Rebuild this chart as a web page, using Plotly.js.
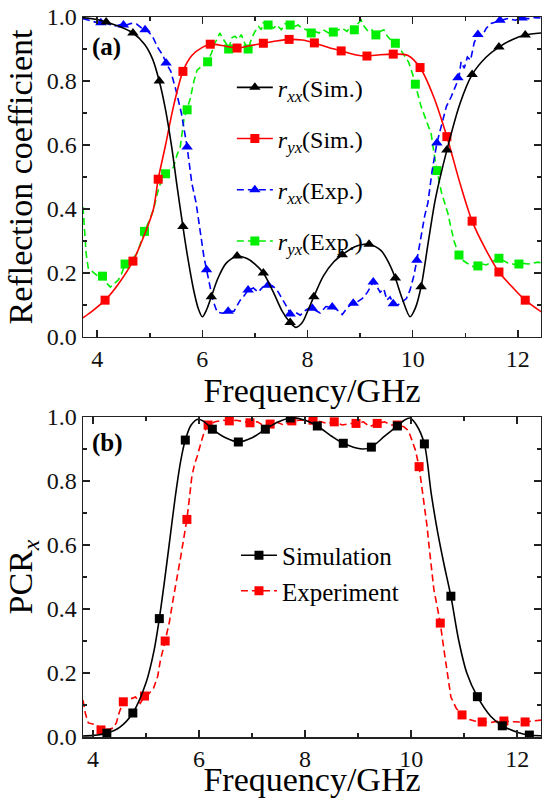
<!DOCTYPE html>
<html>
<head>
<meta charset="utf-8">
<script src="https://cdn.plot.ly/plotly-3.0.1.min.js"></script>
<style>html,body{margin:0;padding:0;background:#fff;}#chart{width:542px;height:798px;}</style>
</head>
<body>
<div id="chart"></div>
<script>
// ---------- Panel (a): reflection coefficients ----------
const freqRxxSim = [3.73, 4.0, 4.17, 4.4, 4.68, 4.9, 5.05, 5.18, 5.3, 5.42, 5.52, 5.63, 5.72, 5.83, 5.92, 6.0, 6.08, 6.17, 6.3, 6.45, 6.66, 6.85, 7.0, 7.16, 7.35, 7.52, 7.67, 7.78, 7.9, 8.0, 8.12, 8.3, 8.5, 8.66, 8.9, 9.17, 9.4, 9.55, 9.67, 9.8, 9.95, 10.05, 10.16, 10.3, 10.43, 10.65, 10.9, 11.13, 11.4, 11.64, 11.9, 12.14, 12.44];
const rxxSim = [0.998, 0.992, 0.984, 0.972, 0.95, 0.915, 0.87, 0.80, 0.71, 0.59, 0.47, 0.345, 0.25, 0.15, 0.09, 0.063, 0.085, 0.126, 0.185, 0.23, 0.253, 0.245, 0.228, 0.20, 0.14, 0.08, 0.045, 0.03, 0.045, 0.08, 0.126, 0.19, 0.235, 0.257, 0.282, 0.29, 0.27, 0.23, 0.184, 0.12, 0.063, 0.09, 0.157, 0.30, 0.43, 0.584, 0.73, 0.82, 0.875, 0.906, 0.93, 0.944, 0.95];
const freqRxxSimMk = [4.17, 4.68, 5.18, 5.63, 6.17, 6.66, 7.16, 7.67, 8.12, 8.66, 9.17, 9.67, 10.16, 10.65, 11.13, 11.64, 12.14];
const rxxSimMk = [0.984, 0.95, 0.80, 0.345, 0.126, 0.253, 0.20, 0.045, 0.126, 0.257, 0.29, 0.184, 0.157, 0.584, 0.82, 0.906, 0.944];

const freqRyxSim = [3.73, 3.9, 4.15, 4.4, 4.68, 4.9, 5.07, 5.16, 5.3, 5.45, 5.63, 5.8, 6.0, 6.15, 6.4, 6.66, 6.9, 7.16, 7.4, 7.65, 7.9, 8.13, 8.4, 8.64, 8.9, 9.13, 9.38, 9.63, 9.91, 10.14, 10.4, 10.65, 10.9, 11.13, 11.4, 11.64, 11.9, 12.14, 12.45];
const ryxSim = [0.06, 0.08, 0.115, 0.165, 0.237, 0.32, 0.40, 0.493, 0.60, 0.72, 0.83, 0.88, 0.905, 0.915, 0.91, 0.903, 0.91, 0.918, 0.925, 0.93, 0.928, 0.919, 0.905, 0.894, 0.882, 0.878, 0.882, 0.884, 0.88, 0.842, 0.75, 0.626, 0.48, 0.362, 0.27, 0.203, 0.155, 0.115, 0.078];
const freqRyxSimMk = [4.15, 4.68, 5.16, 5.63, 6.15, 6.66, 7.16, 7.65, 8.13, 8.64, 9.13, 9.63, 10.14, 10.65, 11.13, 11.64, 12.14];
const ryxSimMk = [0.115, 0.237, 0.493, 0.83, 0.915, 0.903, 0.918, 0.93, 0.919, 0.894, 0.878, 0.884, 0.842, 0.626, 0.362, 0.203, 0.115];

const freqRxxExp = [3.73, 3.85, 3.95, 4.05, 4.15, 4.25, 4.35, 4.45, 4.55, 4.65, 4.75, 4.85, 4.95, 5.05, 5.15, 5.25, 5.31, 5.4, 5.5, 5.6, 5.71, 5.8, 5.88, 5.96, 6.03, 6.08, 6.15, 6.2, 6.28, 6.38, 6.49, 6.6, 6.72, 6.8, 6.87, 6.97, 7.06, 7.15, 7.25, 7.33, 7.42, 7.54, 7.62, 7.67, 7.76, 7.86, 7.95, 8.05, 8.14, 8.24, 8.35, 8.47, 8.56, 8.66, 8.75, 8.85, 8.95, 9.04, 9.14, 9.25, 9.31, 9.38, 9.45, 9.51, 9.57, 9.63, 9.72, 9.8, 9.88, 9.95, 10.02, 10.08, 10.13, 10.18, 10.23, 10.29, 10.37, 10.46, 10.55, 10.64, 10.73, 10.8, 10.88, 10.92, 10.98, 11.04, 11.1, 11.17, 11.24, 11.32, 11.4, 11.49, 11.58, 11.68, 11.8, 11.95, 12.08, 12.2, 12.32, 12.44];
const rxxExp = [0.995, 0.99, 0.985, 0.98, 0.983, 0.976, 0.972, 0.976, 0.975, 0.98, 0.978, 0.965, 0.958, 0.94, 0.905, 0.88, 0.856, 0.83, 0.77, 0.70, 0.594, 0.48, 0.42, 0.33, 0.25, 0.21, 0.15, 0.115, 0.078, 0.074, 0.08, 0.08, 0.115, 0.13, 0.147, 0.153, 0.14, 0.156, 0.162, 0.16, 0.147, 0.115, 0.09, 0.072, 0.078, 0.068, 0.082, 0.092, 0.085, 0.075, 0.095, 0.094, 0.085, 0.07, 0.09, 0.105, 0.11, 0.12, 0.14, 0.172, 0.16, 0.14, 0.15, 0.115, 0.125, 0.104, 0.10, 0.11, 0.12, 0.147, 0.19, 0.24, 0.29, 0.344, 0.38, 0.42, 0.52, 0.606, 0.66, 0.72, 0.75, 0.78, 0.81, 0.86, 0.84, 0.875, 0.865, 0.92, 0.945, 0.94, 0.965, 0.98, 0.985, 0.99, 0.995, 0.99, 0.997, 0.995, 0.998, 0.997];
const freqRxxExpMk = [4.07, 4.5, 4.91, 5.31, 5.71, 6.08, 6.49, 6.87, 7.25, 7.67, 8.09, 8.47, 8.87, 9.25, 9.63, 10.08, 10.46, 10.86, 11.24, 11.66, 12.08];
const rxxExpMk = [0.982, 0.975, 0.96, 0.856, 0.594, 0.21, 0.08, 0.147, 0.162, 0.072, 0.09, 0.094, 0.105, 0.172, 0.104, 0.24, 0.606, 0.81, 0.945, 0.99, 0.997];

const freqRyxExp = [3.73, 3.76, 3.79, 3.83, 3.9, 3.97, 4.05, 4.1, 4.17, 4.25, 4.32, 4.4, 4.47, 4.53, 4.6, 4.68, 4.76, 4.83, 4.9, 4.98, 5.07, 5.13, 5.18, 5.25, 5.3, 5.38, 5.45, 5.52, 5.58, 5.65, 5.71, 5.77, 5.84, 5.9, 5.98, 6.05, 6.1, 6.18, 6.24, 6.28, 6.33, 6.4, 6.46, 6.5, 6.56, 6.62, 6.68, 6.74, 6.8, 6.87, 6.93, 7.0, 7.07, 7.12, 7.16, 7.22, 7.28, 7.35, 7.42, 7.5, 7.58, 7.67, 7.75, 7.82, 7.9, 7.98, 8.07, 8.14, 8.22, 8.3, 8.4, 8.49, 8.58, 8.66, 8.75, 8.82, 8.89, 8.96, 9.02, 9.08, 9.15, 9.22, 9.3, 9.38, 9.45, 9.52, 9.6, 9.67, 9.76, 9.84, 9.92, 10.0, 10.05, 10.1, 10.16, 10.25, 10.35, 10.4, 10.46, 10.55, 10.62, 10.67, 10.73, 10.79, 10.88, 10.95, 11.02, 11.1, 11.17, 11.24, 11.32, 11.4, 11.49, 11.56, 11.64, 11.72, 11.8, 11.87, 11.95, 12.02, 12.1, 12.2, 12.3, 12.38, 12.44];
const ryxExp = [0.406, 0.33, 0.26, 0.215, 0.205, 0.195, 0.185, 0.19, 0.17, 0.156, 0.165, 0.178, 0.20, 0.228, 0.235, 0.245, 0.262, 0.30, 0.33, 0.36, 0.397, 0.44, 0.47, 0.50, 0.51, 0.52, 0.53, 0.57, 0.594, 0.68, 0.71, 0.745, 0.80, 0.834, 0.845, 0.855, 0.86, 0.89, 0.92, 0.93, 0.95, 0.93, 0.915, 0.90, 0.935, 0.94, 0.93, 0.945, 0.92, 0.90, 0.93, 0.955, 0.97, 0.96, 0.984, 0.97, 0.975, 0.965, 0.975, 0.96, 0.98, 0.975, 0.97, 0.975, 0.965, 0.96, 0.95, 0.955, 0.95, 0.96, 0.95, 0.953, 0.96, 0.965, 0.955, 0.97, 0.96, 0.98, 0.99, 0.97, 0.955, 0.96, 0.944, 0.955, 0.96, 0.94, 0.925, 0.918, 0.90, 0.88, 0.86, 0.82, 0.79, 0.76, 0.72, 0.68, 0.636, 0.58, 0.52, 0.45, 0.41, 0.386, 0.34, 0.298, 0.256, 0.24, 0.232, 0.225, 0.218, 0.222, 0.228, 0.225, 0.234, 0.24, 0.246, 0.24, 0.232, 0.23, 0.226, 0.228, 0.23, 0.228, 0.232, 0.234, 0.232];
const freqRyxExpMk = [4.1, 4.53, 4.9, 5.3, 5.71, 6.1, 6.5, 6.87, 7.25, 7.67, 8.07, 8.49, 8.89, 9.3, 9.67, 10.05, 10.46, 10.88, 11.24, 11.64, 12.02];
const ryxExpMk = [0.19, 0.228, 0.33, 0.51, 0.71, 0.86, 0.90, 0.90, 0.975, 0.975, 0.95, 0.953, 0.96, 0.944, 0.918, 0.79, 0.52, 0.256, 0.222, 0.246, 0.228];

// ---------- Panel (b): PCR ----------
const freqPcrSim = [3.81, 4.0, 4.26, 4.5, 4.75, 5.0, 5.15, 5.25, 5.35, 5.45, 5.55, 5.65, 5.74, 5.85, 5.98, 6.1, 6.25, 6.5, 6.74, 7.0, 7.25, 7.5, 7.72, 8.0, 8.23, 8.5, 8.72, 9.08, 9.25, 9.5, 9.74, 9.87, 9.98, 10.1, 10.25, 10.38, 10.5, 10.62, 10.75, 10.9, 11.05, 11.25, 11.5, 11.72, 12.0, 12.23, 12.45];
const pcrSim = [0.003, 0.005, 0.012, 0.03, 0.075, 0.17, 0.27, 0.37, 0.49, 0.62, 0.75, 0.86, 0.928, 0.975, 0.993, 0.985, 0.962, 0.935, 0.922, 0.935, 0.962, 0.985, 0.997, 0.99, 0.972, 0.94, 0.918, 0.90, 0.906, 0.94, 0.972, 0.99, 0.997, 0.975, 0.916, 0.76, 0.64, 0.54, 0.44, 0.30, 0.20, 0.126, 0.065, 0.035, 0.015, 0.006, 0.004];
const freqPcrSimMk = [4.26, 4.75, 5.25, 5.74, 6.25, 6.74, 7.25, 7.72, 8.23, 8.72, 9.25, 9.74, 10.25, 10.75, 11.25, 11.72, 12.23];
const pcrSimMk = [0.012, 0.075, 0.37, 0.928, 0.962, 0.922, 0.962, 0.997, 0.972, 0.918, 0.906, 0.972, 0.916, 0.44, 0.126, 0.035, 0.006];

const freqPcrExp = [3.81, 3.86, 3.91, 4.0, 4.07, 4.15, 4.22, 4.3, 4.38, 4.44, 4.5, 4.57, 4.65, 4.72, 4.8, 4.89, 4.97, 5.05, 5.14, 5.22, 5.27, 5.36, 5.44, 5.51, 5.58, 5.65, 5.72, 5.77, 5.82, 5.86, 5.91, 5.96, 6.05, 6.1, 6.17, 6.3, 6.45, 6.57, 6.7, 6.83, 6.96, 7.1, 7.2, 7.34, 7.45, 7.6, 7.75, 7.9, 8.05, 8.15, 8.3, 8.42, 8.55, 8.7, 8.85, 8.96, 9.1, 9.22, 9.36, 9.5, 9.62, 9.74, 9.86, 9.93, 9.98, 10.03, 10.08, 10.15, 10.23, 10.3, 10.34, 10.43, 10.5, 10.55, 10.62, 10.68, 10.75, 10.85, 10.96, 11.1, 11.2, 11.34, 11.5, 11.65, 11.75, 11.9, 12.05, 12.15, 12.3, 12.47];
const pcrExp = [0.115, 0.07, 0.044, 0.04, 0.038, 0.022, 0.025, 0.024, 0.028, 0.045, 0.08, 0.11, 0.118, 0.12, 0.125, 0.105, 0.128, 0.135, 0.152, 0.19, 0.24, 0.30, 0.36, 0.43, 0.49, 0.56, 0.63, 0.68, 0.75, 0.81, 0.85, 0.875, 0.928, 0.955, 0.975, 0.985, 0.99, 0.988, 0.99, 0.985, 0.982, 0.985, 0.975, 0.978, 0.985, 0.975, 0.988, 0.99, 0.99, 0.99, 0.985, 0.98, 0.985, 0.975, 0.98, 0.98, 0.985, 0.97, 0.98, 0.985, 0.975, 0.975, 0.97, 0.96, 0.944, 0.92, 0.897, 0.845, 0.75, 0.66, 0.594, 0.46, 0.40, 0.356, 0.272, 0.20, 0.125, 0.09, 0.069, 0.055, 0.05, 0.047, 0.045, 0.05, 0.05, 0.048, 0.047, 0.047, 0.05, 0.053];
const freqPcrExpMk = [4.15, 4.57, 4.97, 5.36, 5.77, 6.17, 6.57, 6.96, 7.34, 7.75, 8.15, 8.55, 8.96, 9.36, 9.74, 10.15, 10.55, 10.96, 11.34, 11.75, 12.15];
const pcrExpMk = [0.022, 0.11, 0.128, 0.30, 0.68, 0.975, 0.988, 0.982, 0.978, 0.988, 0.99, 0.985, 0.98, 0.98, 0.975, 0.845, 0.356, 0.069, 0.047, 0.05, 0.047];

// ---------- text ----------
const legendTop = ['<i>r</i><sub><i>xx</i></sub>(Sim.)', '<i>r</i><sub><i>yx</i></sub>(Sim.)', '<i>r</i><sub><i>xx</i></sub>(Exp.)', '<i>r</i><sub><i>yx</i></sub>(Exp.)'];
const legendBottom = ['Simulation', 'Experiment'];
const xTickVals = [4, 6, 8, 10, 12];

const SERIF = 'Liberation Serif, serif';
const BLACK = '#000000', RED = '#ff0000', BLUE = '#0000ff', GREEN = '#00ee00';
const EXPDASH = '7px,4px';

function curve(x, y, color, dash, xa, ya, shape) {
  return {x: x, y: y, xaxis: xa, yaxis: ya, mode: 'lines', showlegend: false, hoverinfo: 'skip',
    line: {color: color, width: 1.6, dash: dash, shape: shape || 'linear', smoothing: 0.8}};
}
function marks(x, y, color, symbol, size, xa, ya) {
  return {x: x, y: y, xaxis: xa, yaxis: ya, mode: 'markers', showlegend: false, hoverinfo: 'skip',
    marker: {color: color, symbol: symbol, size: size, line: {width: 0}}};
}
function legItem(name, color, dash, symbol, size, xa, ya, legend, group) {
  return {x: [null], y: [null], xaxis: xa, yaxis: ya, mode: 'lines+markers', name: name, legend: legend,
    legendgroup: group, showlegend: true,
    line: {color: color, width: 1.6, dash: dash}, marker: {color: color, symbol: symbol, size: size}};
}

const data = [
  curve(freqRyxExp, ryxExp, GREEN, EXPDASH, 'x', 'y'),
  marks(freqRyxExpMk, ryxExpMk, GREEN, 'square', 9, 'x', 'y'),
  curve(freqRxxExp, rxxExp, BLUE, EXPDASH, 'x', 'y'),
  marks(freqRxxExpMk, rxxExpMk, BLUE, 'triangle-up', 10, 'x', 'y'),
  curve(freqRyxSim, ryxSim, RED, 'solid', 'x', 'y', 'spline'),
  marks(freqRyxSimMk, ryxSimMk, RED, 'square', 9, 'x', 'y'),
  curve(freqRxxSim, rxxSim, BLACK, 'solid', 'x', 'y', 'spline'),
  marks(freqRxxSimMk, rxxSimMk, BLACK, 'triangle-up', 10, 'x', 'y'),
  legItem(legendTop[0], BLACK, 'solid', 'triangle-up', 10, 'x', 'y', 'legend', 'a1'),
  legItem(legendTop[1], RED, 'solid', 'square', 9, 'x', 'y', 'legend', 'a2'),
  legItem(legendTop[2], BLUE, EXPDASH, 'triangle-up', 10, 'x', 'y', 'legend', 'a3'),
  legItem(legendTop[3], GREEN, EXPDASH, 'square', 9, 'x', 'y', 'legend', 'a4'),

  curve(freqPcrExp, pcrExp, RED, EXPDASH, 'x2', 'y2'),
  marks(freqPcrExpMk, pcrExpMk, RED, 'square', 9, 'x2', 'y2'),
  curve(freqPcrSim, pcrSim, BLACK, 'solid', 'x2', 'y2', 'spline'),
  marks(freqPcrSimMk, pcrSimMk, BLACK, 'square', 9, 'x2', 'y2'),
  legItem(legendBottom[0], BLACK, 'solid', 'square', 9, 'x2', 'y2', 'legend2', 'b1'),
  legItem(legendBottom[1], RED, EXPDASH, 'square', 9, 'x2', 'y2', 'legend2', 'b2')
];

function xAxis(range, anchor) {
  return {range: range, anchor: anchor, domain: [0, 1], tickvals: xTickVals, ticks: 'inside', ticklen: 7, tickwidth: 1.5,
    tickcolor: '#222', minor: {dtick: 1, tick0: 0, ticks: 'inside', ticklen: 4, tickwidth: 1.5, tickcolor: '#222'},
    showline: true, linewidth: 1.5, linecolor: '#222', mirror: 'ticks', showgrid: false, zeroline: false,
    tickfont: {family: SERIF, size: 24, color: '#111'},
    title: {text: 'Frequency/GHz', font: {family: SERIF, size: 34, color: '#000'}, standoff: 0}};
}
function yAxis(domain, anchor, title) {
  return {range: [0, 1], anchor: anchor, domain: domain, dtick: 0.2, tick0: 0, tickformat: '.1f', ticks: 'inside', ticklen: 7,
    tickwidth: 1.5, tickcolor: '#222', minor: {dtick: 0.1, tick0: 0, ticks: 'inside', ticklen: 4, tickwidth: 1.5, tickcolor: '#222'},
    showline: true, linewidth: 1.5, linecolor: '#222', mirror: 'ticks', showgrid: false, zeroline: false,
    tickfont: {family: SERIF, size: 24, color: '#111'},
    title: {text: title, font: {family: SERIF, size: 34, color: '#000'}, standoff: 4}};
}

const layout = {
  width: 542, height: 798,
  margin: {l: 83, r: 1, t: 17, b: 61},
  paper_bgcolor: '#ffffff', plot_bgcolor: '#ffffff',
  font: {family: SERIF},
  showlegend: true,
  xaxis: xAxis([3.73, 12.44], 'y'),
  yaxis: yAxis([0.5556, 1], 'x', 'Reflection coefficient'),
  xaxis2: xAxis([3.81, 12.45], 'y2'),
  yaxis2: yAxis([0, 0.4444], 'x2', 'PCR<sub><i>x</i></sub>'),
  legend: {x: 0.325, y: 0.933, xanchor: 'left', yanchor: 'top', bgcolor: 'rgba(0,0,0,0)', traceorder: 'grouped',
    tracegroupgap: 17, itemwidth: 36, font: {family: SERIF, size: 24, color: '#000'}},
  legend2: {x: 0.334, y: 0.284, xanchor: 'left', yanchor: 'top', bgcolor: 'rgba(0,0,0,0)', traceorder: 'grouped',
    tracegroupgap: 0, itemwidth: 36, font: {family: SERIF, size: 25, color: '#000'}},
  annotations: [
    {text: '<b>(a)</b>', xref: 'paper', yref: 'paper', x: 0.015, y: 0.958, xanchor: 'left', yanchor: 'middle',
      showarrow: false, font: {family: SERIF, size: 25, color: '#000'}},
    {text: '<b>(b)</b>', xref: 'paper', yref: 'paper', x: 0.015, y: 0.408, xanchor: 'left', yanchor: 'middle',
      showarrow: false, font: {family: SERIF, size: 25, color: '#000'}}
  ]
};

Plotly.newPlot('chart', data, layout, {displayModeBar: false, staticPlot: true});
</script>
</body>
</html>
